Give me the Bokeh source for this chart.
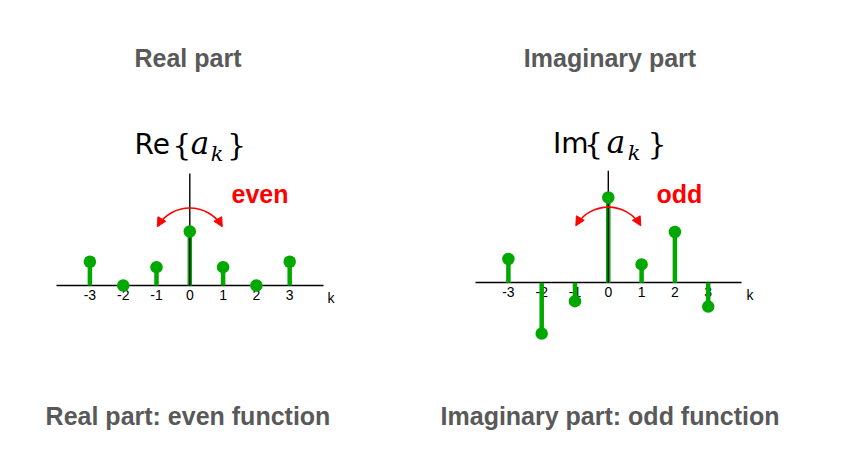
import numpy as np
from bokeh.plotting import figure
from bokeh.models import Range1d, LinearAxis, FixedTicker, Label, Arrow, NormalHead
from bokeh.layouts import row, column
from bokeh.embed import file_html
from bokeh.resources import INLINE

# ---------------- data ----------------
k = [-3, -2, -1, 0, 1, 2, 3]
re_ak = [0.44, 0.0, 0.34, 1.0, 0.34, 0.0, 0.44]
im_ak = [0.44, -0.94, -0.34, 1.58, 0.34, 0.94, -0.44]
tick_labels = ["-3", "-2", "-1", "0", "1", "2", "3"]
axis_name = "k"
panel_titles = ["Real part", "Imaginary part"]
captions = ["Real part: even function", "Imaginary part: odd function"]
symbol_prefix = ["Re", "Im"]
symmetry_words = ["even", "odd"]

# ---------------- styles ----------------
GREEN = "#00a800"
RED = "#ff0000"
GRAY = "#595959"
XS = 33.3          # px per unit of k
YS = 54.0          # px per unit of value
W = 417
H_MAIN = 400
BOTTOM = 30
FRAME_H = H_MAIN - BOTTOM
H_CAP = 34
ASC = {"Liberation Sans": 0.905, "DejaVu Sans": 0.928, "DejaVu Serif": 0.928}


def add_text(p, conv, px, base, text, font, size, color, align="center",
             style="normal"):
    """Place text so that its baseline sits at page-y `base`."""
    x, y = conv(px, base - ASC[font] * size)
    p.add_layout(Label(x=x, y=y, text=text, text_font=font,
                       text_font_size=f"{size}px", text_font_style=style,
                       text_color=color, text_align=align,
                       text_baseline="top"))


def make_panel(values, page_left, zx, zy, title, prefix, word, geo):
    def d(px, py):
        return (px - zx) / XS, (zy - py) / YS

    x_range = Range1d((page_left - zx) / XS, (page_left + W - zx) / XS)
    y_range = Range1d((zy - FRAME_H) / YS, zy / YS)
    p = figure(width=W, height=H_MAIN, x_range=x_range, y_range=y_range,
               x_axis_type=None, y_axis_type=None, toolbar_location=None,
               output_backend="svg", title_location=None,
               min_border_left=0, min_border_right=0, min_border_top=0,
               min_border_bottom=BOTTOM)
    p.outline_line_color = None
    p.background_fill_color = "white"
    p.border_fill_color = "white"

    ax = LinearAxis(ticker=FixedTicker(ticks=k),
                    major_label_overrides={kk: s for kk, s in zip(k, tick_labels)},
                    fixed_location=0, bounds=(-4, 4))
    ax.axis_line_color = "black"
    ax.axis_line_width = 1.3
    ax.major_tick_line_color = None
    ax.minor_tick_line_color = None
    ax.major_tick_out = 0
    ax.major_tick_in = 0
    ax.major_label_standoff = 4
    ax.major_label_text_font = "Liberation Sans"
    ax.major_label_text_font_size = "14px"
    ax.major_label_text_color = "black"
    p.add_layout(ax, "below")

    zeros = [0] * len(k)
    p.segment(x0=k, y0=zeros, x1=k, y1=values, line_color=GREEN,
              line_width=4.5, level="overlay")
    # vertical axis line
    vt = 112.0 / YS
    p.segment(x0=[0], y0=[0], x1=[0], y1=[vt], line_color="black",
              line_width=1.4, level="overlay")
    p.scatter(x=k, y=values, size=12.5, fill_color=GREEN, line_color=None,
              level="overlay")

    # "k" axis name
    add_text(p, d, geo["k_left"], zy + 17, axis_name, "Liberation Sans", 14,
             "black", align="left")

    # curved double arrow
    R = 37.5
    cv = geo["arc_c"]
    p.arc(x=[0], y=[cv / YS], radius=R, radius_units="screen",
          start_angle=np.deg2rad(35), end_angle=np.deg2rad(145),
          line_color=RED, line_width=1.6, level="overlay")
    for ang, sgn in ((150, 1), (30, -1)):
        t = np.deg2rad(ang)
        tu, tv = R * np.cos(t), cv + R * np.sin(t)
        du, dv = -np.sin(t) * sgn, np.cos(t) * sgn
        su, sv = tu - 9 * du, tv - 9 * dv
        p.add_layout(Arrow(x_start=su / XS, y_start=sv / YS,
                           x_end=tu / XS, y_end=tv / YS,
                           line_color=RED, line_width=1.6,
                           end=NormalHead(size=9, fill_color=RED, line_color=RED,
                                          line_width=1)))

    # texts
    add_text(p, d, geo["title_cx"], 66, title, "Liberation Sans", 25, GRAY,
             style="bold")
    add_text(p, d, geo["word_left"], geo["word_base"], word, "Liberation Sans",
             25, RED, align="left", style="bold")

    # math symbol  Re{a_k} / Im{a_k}
    m = geo["math"]
    b = m["base"]
    add_text(p, d, m["pre"], b, prefix, "DejaVu Sans", 28, "black", align="left")
    add_text(p, d, m["lb"], b + 1, "{", "DejaVu Serif", 30, "black")
    add_text(p, d, m["rb"], b + 1, "}", "DejaVu Serif", 30, "black")
    add_text(p, d, m["a"], b, "a", "DejaVu Serif", 31, "black", style="italic")
    add_text(p, d, m["k"], b + 7.7, "k", "DejaVu Serif", 21, "black",
             style="italic")
    return p


def make_caption(text, page_left, cx):
    c = figure(width=W, height=H_CAP,
               x_range=Range1d(page_left, page_left + W),
               y_range=Range1d(H_MAIN + H_CAP, H_MAIN),
               x_axis_type=None, y_axis_type=None, toolbar_location=None,
               output_backend="svg", title_location=None,
               min_border_left=0, min_border_right=0, min_border_top=0,
               min_border_bottom=0)
    c.outline_line_color = None
    c.background_fill_color = "white"
    c.border_fill_color = "white"
    add_text(c, lambda x, y: (x, y), cx, 424, text, "Liberation Sans", 25,
             GRAY, style="bold")
    return c


geo_left = dict(k_left=327, arc_c=40.0, title_cx=187.5, word_left=231,
                word_base=202,
                math=dict(pre=134, base=153.3, lb=181.3, a=199.5, k=216.5, rb=236))
geo_right = dict(k_left=746, arc_c=38.2, title_cx=609.5, word_left=656,
                 word_base=202,
                 math=dict(pre=552.4, base=152.3, lb=593, a=615.5, k=633.5, rb=656.5))

p1 = make_panel(re_ak, 0, 189.3, 285.0, panel_titles[0],
                symbol_prefix[0], symmetry_words[0], geo_left)
p2 = make_panel(im_ak, W, 607.8, 282.3, panel_titles[1],
                symbol_prefix[1], symmetry_words[1], geo_right)
c1 = make_caption(captions[0], 0, 187.5)
c2 = make_caption(captions[1], W, 609.5)

layout = column(row(p1, p2), row(c1, c2))
open("out.html", "w").write(file_html(layout, INLINE))
